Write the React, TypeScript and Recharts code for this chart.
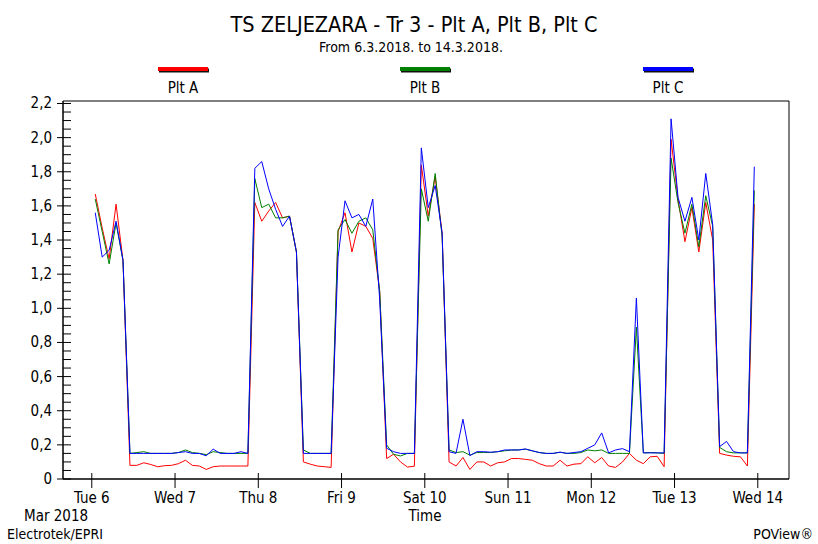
import React from 'react';
import { LineChart, Line, XAxis, YAxis, ReferenceArea } from 'recharts';

// hours since 6.3.2018 00:00 (2-hour samples)
const hours = [
  1, 3, 5, 7, 9, 11, 13, 15, 17, 19, 21, 23, 25, 27, 29, 31, 33, 35, 37, 39, 41, 43, 45, 47,
  49, 51, 53, 55, 57, 59, 61, 63, 65, 67, 69, 71, 73, 75, 77, 79, 81, 83, 85, 87, 89, 91, 93, 95,
  97, 99, 101, 103, 105, 107, 109, 111, 113, 115, 117, 119, 121, 123, 125, 127, 129, 131, 133, 135, 137, 139, 141, 143,
  145, 147, 149, 151, 153, 155, 157, 159, 161, 163, 165, 167, 169, 171, 173, 175, 177, 179, 181, 183, 185, 187, 189, 191,
];

const pltA = [
  1.67, 1.47, 1.29, 1.61, 1.28, 0.08, 0.08, 0.095, 0.085, 0.072, 0.078, 0.08, 0.09, 0.11, 0.08, 0.076, 0.056, 0.072, 0.076, 0.076, 0.076, 0.076, 0.076, 1.62,
  1.51, 1.57, 1.62, 1.53, 1.54, 1.33, 0.1, 0.087, 0.076, 0.072, 0.068, 1.45, 1.56, 1.33, 1.5, 1.48, 1.41, 1.1, 0.12, 0.145, 0.1, 0.07, 0.075, 1.84,
  1.54, 1.77, 1.44, 0.1, 0.076, 0.126, 0.056, 0.1, 0.1, 0.076, 0.095, 0.1, 0.12, 0.12, 0.115, 0.11, 0.09, 0.076, 0.076, 0.11, 0.076, 0.087, 0.09, 0.13,
  0.095, 0.126, 0.076, 0.068, 0.1, 0.15, 0.11, 0.09, 0.13, 0.133, 0.072, 1.99, 1.64, 1.39, 1.59, 1.33, 1.62, 1.4, 0.15, 0.14, 0.133, 0.13, 0.076, 1.61,
];

const pltB = [
  1.64, 1.45, 1.26, 1.5, 1.28, 0.15, 0.155, 0.16, 0.15, 0.15, 0.15, 0.15, 0.155, 0.17, 0.155, 0.15, 0.143, 0.16, 0.155, 0.15, 0.15, 0.15, 0.15, 1.76,
  1.59, 1.61, 1.53, 1.53, 1.54, 1.33, 0.17, 0.15, 0.15, 0.15, 0.15, 1.46, 1.52, 1.44, 1.51, 1.53, 1.46, 1.1, 0.2, 0.145, 0.135, 0.15, 0.15, 1.7,
  1.51, 1.79, 1.42, 0.17, 0.155, 0.16, 0.14, 0.155, 0.155, 0.155, 0.16, 0.165, 0.17, 0.17, 0.175, 0.165, 0.155, 0.15, 0.15, 0.157, 0.15, 0.15, 0.155, 0.17,
  0.165, 0.17, 0.15, 0.15, 0.15, 0.15, 0.89, 0.153, 0.155, 0.153, 0.15, 1.88, 1.62, 1.44, 1.61, 1.36, 1.66, 1.48, 0.185, 0.16, 0.153, 0.153, 0.153, 1.69,
];

const pltC = [
  1.56, 1.3, 1.34, 1.51, 1.28, 0.15, 0.15, 0.15, 0.15, 0.15, 0.15, 0.15, 0.155, 0.16, 0.15, 0.15, 0.136, 0.175, 0.15, 0.15, 0.15, 0.16, 0.15, 1.82,
  1.86, 1.7, 1.58, 1.48, 1.54, 1.33, 0.15, 0.15, 0.15, 0.15, 0.15, 1.3, 1.63, 1.53, 1.55, 1.48, 1.64, 1.05, 0.18, 0.16, 0.15, 0.15, 0.15, 1.94,
  1.59, 1.72, 1.44, 0.16, 0.15, 0.35, 0.137, 0.16, 0.16, 0.157, 0.16, 0.17, 0.17, 0.17, 0.176, 0.165, 0.155, 0.15, 0.15, 0.157, 0.15, 0.155, 0.16, 0.18,
  0.2, 0.27, 0.153, 0.17, 0.178, 0.16, 1.06, 0.153, 0.153, 0.153, 0.153, 2.11, 1.65, 1.51, 1.65, 1.4, 1.79, 1.49, 0.19, 0.22, 0.16, 0.153, 0.153, 1.83,
];

const dayTicks = [0, 24, 48, 72, 96, 120, 144, 168, 192];
const dayLabels = ['Tue 6', 'Wed 7', 'Thu 8', 'Fri 9', 'Sat 10', 'Sun 11', 'Mon 12', 'Tue 13', 'Wed 14'];
const yMajorLabels = ['0', '0,2', '0,4', '0,6', '0,8', '1,0', '1,2', '1,4', '1,6', '1,8', '2,0', '2,2'];
const yTicks = Array.from({ length: 45 }, (_, i) => Math.round(i * 5) / 100);

const data = hours.map((h, i) => ({ h, a: pltA[i], b: pltB[i], c: pltC[i] }));

const FONT = '"DejaVu Sans Condensed", "DejaVu Sans", sans-serif';
const X_MIN = -8.3;
const X_MAX = 201;
const Y_MAX = 2.2146;

const YTick = (props: any) => {
  const { x, y, payload } = props;
  const v = payload.value as number;
  const idx = Math.round(v * 5);
  const major = Math.abs(idx - v * 5) < 1e-6;
  return (
    <g>
      <line x1={major ? x - 6 : x} x2={x + 8} y1={y} y2={y} stroke="#000" strokeWidth={1} />
      {major && (
        <text x={x - 11} y={y + 5} textAnchor="end" fontSize={15} fontFamily={FONT} fill="#000">
          {yMajorLabels[idx]}
        </text>
      )}
    </g>
  );
};

const XTick = (props: any) => {
  const { x, y, payload } = props;
  const i = dayTicks.indexOf(payload.value);
  return (
    <g>
      <line x1={x} x2={x} y1={y - 6} y2={y + 9} stroke="#000" strokeWidth={1} />
      <text x={x} y={503} textAnchor="middle" fontSize={15} fontFamily={FONT} fill="#000">
        {dayLabels[i]}
      </text>
    </g>
  );
};

const legendItems = [
  { name: 'Plt A', x: 158, color: '#ff0000' },
  { name: 'Plt B', x: 400, color: '#008000' },
  { name: 'Plt C', x: 643, color: '#0000ff' },
];

export default function App() {
  return (
    <div style={{ position: 'absolute', left: 0, top: 0, width: 818, height: 544, background: '#fff' }}>
      <LineChart
        width={818}
        height={544}
        data={data}
        margin={{ top: 101, right: 29, bottom: 25, left: 13 }}
        style={{ position: 'absolute', left: 0, top: 0 }}
      >
        <XAxis
          dataKey="h"
          type="number"
          domain={[X_MIN, X_MAX]}
          ticks={dayTicks}
          interval={0}
          height={40}
          tickSize={0}
          tickMargin={0}
          tickLine={false}
          tick={<XTick />}
          axisLine={{ stroke: '#000' }}
          allowDataOverflow
        />
        <YAxis
          type="number"
          domain={[0, Y_MAX]}
          ticks={yTicks}
          interval={0}
          width={50}
          tickSize={0}
          tickMargin={0}
          tickLine={false}
          tick={<YTick />}
          axisLine={{ stroke: '#000' }}
          allowDataOverflow
        />
        <ReferenceArea x1={X_MIN} x2={X_MAX} y1={0} y2={Y_MAX} fill="none" stroke="#000" strokeWidth={1} />
        <Line type="linear" dataKey="a" stroke="#ff0000" strokeWidth={1} dot={false} isAnimationActive={false} />
        <Line type="linear" dataKey="b" stroke="#008000" strokeWidth={1} dot={false} isAnimationActive={false} />
        <Line type="linear" dataKey="c" stroke="#0000ff" strokeWidth={1} dot={false} isAnimationActive={false} />
      </LineChart>

      <svg
        width={818}
        height={544}
        style={{ position: 'absolute', left: 0, top: 0, pointerEvents: 'none' }}
        fontFamily={FONT}
        fill="#000"
      >
        <text x={414} y={31.5} textAnchor="middle" fontSize={21.5}>
          TS ZELJEZARA - Tr 3 - Plt A, Plt B, Plt C
        </text>
        <text x={411} y={51.5} textAnchor="middle" fontSize={14}>
          From 6.3.2018. to 14.3.2018.
        </text>
        {legendItems.map((it) => (
          <g key={it.name}>
            <rect x={it.x + 1} y={68.5} width={50} height={4} fill="#111" />
            <rect x={it.x} y={67} width={50} height={4} fill={it.color} />
            <text x={it.x + 25} y={93} textAnchor="middle" fontSize={15}>
              {it.name}
            </text>
          </g>
        ))}
        <text x={24} y={521} fontSize={15}>Mar 2018</text>
        <text x={425} y={521} textAnchor="middle" fontSize={15}>Time</text>
        <text x={7} y={539} fontSize={14}>Electrotek/EPRI</text>
        <text x={813} y={539} textAnchor="end" fontSize={14}>POView®</text>
      </svg>
    </div>
  );
}
